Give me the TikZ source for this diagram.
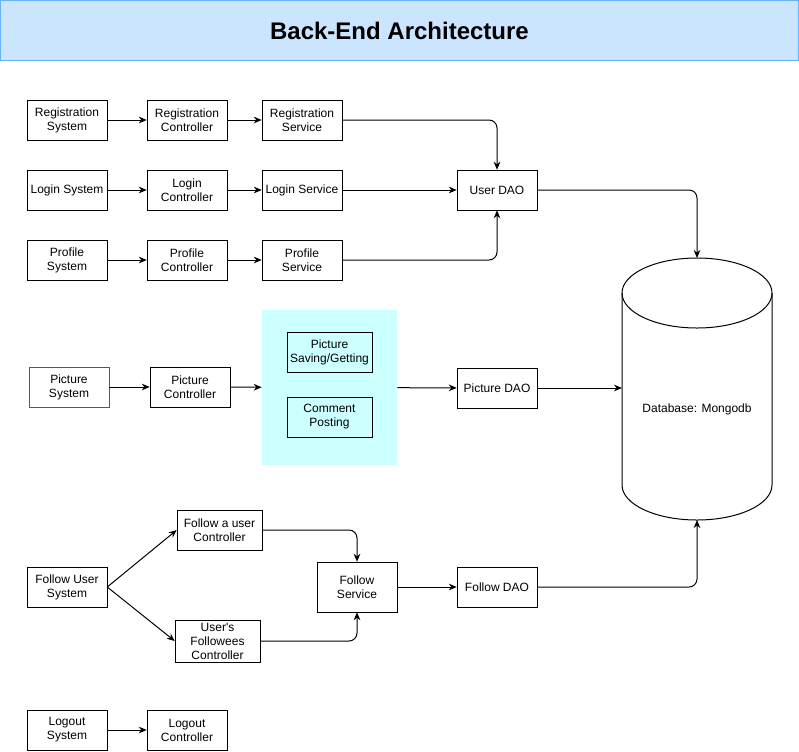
\documentclass[tikz,border=0pt]{standalone}
\usepackage{fontspec}
\setmainfont{Liberation Sans}
\usetikzlibrary{arrows.meta}

\definecolor{titlefill}{HTML}{CCE5FF}
\definecolor{titleline}{HTML}{66B2FF}
\definecolor{groupcyan}{HTML}{CCFFFF}

\begin{document}
\begin{tikzpicture}[x=0.75pt,y=-0.75pt,font=\fontsize{9}{10.5}\selectfont,
  box/.style={draw,align=center,minimum width=60pt,minimum height=30pt,inner sep=1pt},
  conn/.style={-{Stealth[length=6pt,width=5pt]},line width=0.75pt}]
\useasboundingbox (0,0) rectangle (799,751);
\node[draw=titleline,fill=titlefill,minimum width=598.5pt,minimum height=45pt,
  font=\fontsize{18}{22}\selectfont\bfseries] (title) at (399.5,30.5) {Back-End Architecture};

% user rows
\node[box] (regsys) at (67,120) {Registration\\System};
\node[box] (regctrl) at (187,120) {Registration\\Controller};
\node[box] (regserv) at (302,120) {Registration\\Service};
\node[box] (loginsys) at (67,190) {Login System};
\node[box] (loginctrl) at (187,190) {Login\\Controller};
\node[box] (loginserv) at (302,190) {Login Service};
\node[box] (profsys) at (67,260) {Profile\\System};
\node[box] (profctrl) at (187,260) {Profile\\Controller};
\node[box] (profserv) at (302,260) {Profile\\Service};
\node[box] (userdao) at (497,190) {User DAO};
\foreach \r in {reg,login,prof}{%
  \draw[conn] (\r sys) -- (\r ctrl);
  \draw[conn] (\r ctrl) -- (\r serv);
}
\draw[conn,rounded corners=6pt] (regserv.east) -| (userdao.north);
\draw[conn] (loginserv) -- (userdao);
\draw[conn,rounded corners=6pt] (profserv.east) -| (userdao.south);

% database
\draw[line width=0.75pt] (697,293) ellipse [x radius=75,y radius=35];
\draw[line width=0.75pt] (622,293) -- (622,485) arc[start angle=180,end angle=0,x radius=75,y radius=35] -- (772,293);
\node (db) at (697,409) {Database: Mongodb};
\coordinate (dbtop) at (697,258);
\coordinate (dbwest) at (622,388);
\coordinate (dbbot) at (697,520);
\draw[conn,rounded corners=6pt] (userdao.east) -| (dbtop);

% pictures
\node[box,draw=black!65] (picsys) at (69,387) {Picture\\System};
\node[box] (picctrl) at (190,387) {Picture\\Controller};
\node[fill=groupcyan,minimum width=101.25pt,minimum height=116.25pt,inner sep=0] (picgrp) at (329.5,387.5) {};
\node[box,minimum width=63.75pt] (picsave) at (329.5,352) {Picture\\Saving/Getting};
\node[box,minimum width=63.75pt] (piccomm) at (329.5,417) {Comment\\Posting};
\node[box] (picdao) at (497,388) {Picture DAO};
\draw[conn] (picsys) -- (picctrl);
\draw[conn] (picctrl) -- (picgrp);
\draw[conn] (picgrp) -- (picdao);
\draw[conn] (picdao) -- (dbwest);

% follow
\node[box] (followsys) at (67,587) {Follow User\\System};
\node[box,minimum width=63.75pt] (followa) at (219.5,530) {Follow a user\\Controller};
\node[box,minimum width=63.75pt,minimum height=31.5pt] (followees) at (217.5,641) {User\textquotesingle s\\Followees\\Controller};
\node[box,minimum height=37.5pt] (followsvc) at (357,587) {Follow\\Service};
\node[box] (followdao) at (497,587) {Follow DAO};
\draw[conn] (followsys.east) -- (followa.west);
\draw[conn] (followsys.east) -- (followees.west);
\draw[conn,rounded corners=6pt] (followa.east) -| (followsvc.north);
\draw[conn,rounded corners=6pt] (followees.east) -| (followsvc.south);
\draw[conn] (followsvc) -- (followdao);
\draw[conn,rounded corners=6pt] (followdao.east) -| (dbbot);

% logout
\node[box] (logoutsys) at (67,730) {Logout\\System};
\node[box] (logoutctrl) at (187,730) {Logout\\Controller};
\draw[conn] (logoutsys) -- (logoutctrl);
\end{tikzpicture}
\end{document}
